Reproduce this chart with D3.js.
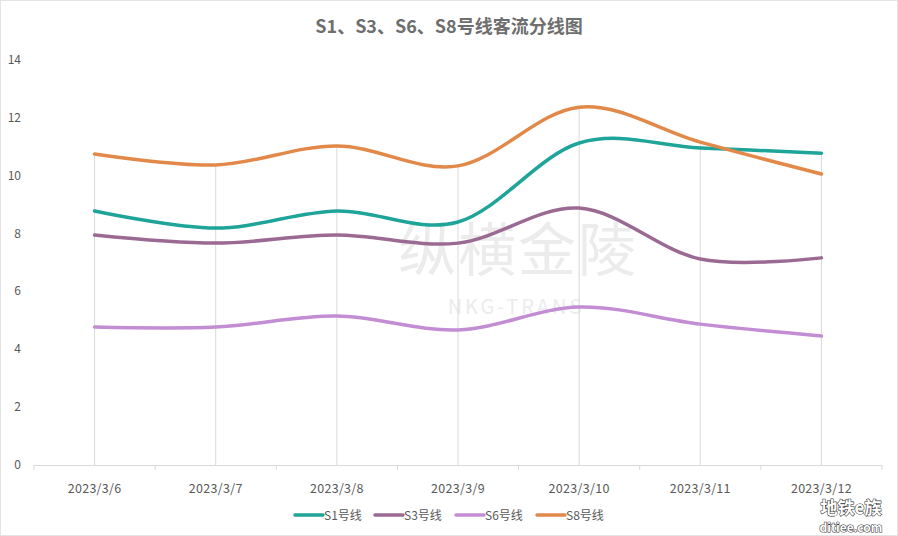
<!DOCTYPE html>
<html><head><meta charset="utf-8">
<script src="https://cdn.jsdelivr.net/npm/d3@7"></script>
<style>body{margin:0;background:#fff}svg{display:block}</style>
</head><body>
<svg id="c" width="898" height="536"></svg>
<script>
const categories = ["2023/3/6","2023/3/7","2023/3/8","2023/3/9","2023/3/10","2023/3/11","2023/3/12"];
const seriesNames = ["S1号线","S3号线","S6号线","S8号线"];
const s1 = [8.78, 8.19, 8.78, 8.40, 11.13, 10.96, 10.78];
const s3 = [7.95, 7.67, 7.95, 7.67, 8.88, 7.12, 7.16];
const s6 = [4.77, 4.77, 5.15, 4.67, 5.46, 4.87, 4.46];
const s8 = [10.75, 10.37, 11.03, 10.34, 12.37, 11.16, 10.06];
const yTicks = [0,2,4,6,8,10,12,14];
const colors = ["#1fa49a","#9a6a92","#c28dd3","#e2894a"];
const title = "S1、S3、S6、S8号线客流分线图";

const series = [s1,s3,s6,s8];
const svg = d3.select("#c");
const font = "'Noto Sans CJK SC','Noto Sans',sans-serif";
const L = 34, R = 882, T = 60, B = 465;

const x = d3.scaleBand().domain(categories).range([L,R]).paddingInner(0).paddingOuter(0);
const y = d3.scaleLinear().domain([0,14]).range([B,T]);

// frame
svg.append("rect").attr("x",0.5).attr("y",0.5).attr("width",897).attr("height",535)
  .attr("fill","none").attr("stroke","#e3e3e3");

// watermark
svg.append("text").attr("x",518).attr("y",271).attr("text-anchor","middle")
  .attr("font-family",font).attr("font-size",58).attr("letter-spacing",2).attr("fill","#ececec").text("纵横金陵");
svg.append("text").attr("x",516).attr("y",314).attr("text-anchor","middle")
  .attr("font-family",font).attr("font-size",20).attr("letter-spacing",3).attr("fill","#ececec").text("NKG-TRANS");

// title
svg.append("text").attr("x",449).attr("y",33).attr("text-anchor","middle")
  .attr("font-family",font).attr("font-weight","bold").attr("font-size",18).attr("fill","#6e6e6e").text(title);

// y labels
svg.append("g").selectAll("text").data(yTicks).join("text")
  .attr("x",21).attr("y",d=>y(d)+4).attr("text-anchor","end")
  .attr("font-family",font).attr("font-size",12).attr("fill","#595959").text(d=>d);

// drop lines from max value
svg.append("g").selectAll("line").data(categories).join("line")
  .attr("x1",d=>x(d)+x.bandwidth()/2).attr("x2",d=>x(d)+x.bandwidth()/2)
  .attr("y1",(d,i)=>y(d3.max(series,s=>s[i]))).attr("y2",B)
  .attr("stroke","#d9d9d9").attr("stroke-width",1);

// x axis
const xa = svg.append("g").attr("transform",`translate(0,${B})`)
  .call(d3.axisBottom(x).tickSize(0).tickPadding(19));
xa.select(".domain").attr("stroke","#d9d9d9").attr("d",`M${L},0.5H${R}`);
xa.selectAll("text").attr("font-family",font).attr("font-size",12.5).attr("letter-spacing",0.3).attr("fill","#595959");
const bounds = categories.map(c=>x(c)).concat([R]);
svg.append("g").selectAll("line").data(bounds).join("line")
  .attr("x1",d=>d).attr("x2",d=>d).attr("y1",B).attr("y2",B+5)
  .attr("stroke","#d9d9d9");

// lines
const line = d3.line().x((d,i)=>x(categories[i])+x.bandwidth()/2).y(d=>y(d))
  .curve(d3.curveCardinal.tension(0));
svg.append("g").selectAll("path").data(series).join("path")
  .attr("d",line).attr("fill","none").attr("stroke",(d,i)=>colors[i])
  .attr("stroke-width",3.5).attr("stroke-linecap","round").attr("stroke-linejoin","round");

// legend
const lx = [295,375,456,537];
const lg = svg.append("g").selectAll("g").data(seriesNames).join("g")
  .attr("transform",(d,i)=>`translate(${lx[i]},515)`);
lg.append("line").attr("x1",0).attr("x2",28).attr("y1",0).attr("y2",0)
  .attr("stroke",(d,i)=>colors[i]).attr("stroke-width",3.5).attr("stroke-linecap","round");
lg.append("text").attr("x",29).attr("y",4.5).attr("font-family",font).attr("font-size",12)
  .attr("fill","#595959").text(d=>d);

// corner watermark
svg.append("text").attr("x",851).attr("y",514).attr("text-anchor","middle")
  .attr("font-family",font).attr("font-weight","bold").attr("font-size",17)
  .attr("fill","#fff").attr("stroke","#333").attr("stroke-width",1.1).attr("paint-order","stroke").text("地铁e族");
svg.append("text").attr("x",851).attr("y",532).attr("text-anchor","middle")
  .attr("font-family",font).attr("font-weight","bold").attr("font-size",12)
  .attr("fill","#fff").attr("stroke","#333").attr("stroke-width",1.1).attr("paint-order","stroke").text("ditiee.com");
</script>
</body></html>
